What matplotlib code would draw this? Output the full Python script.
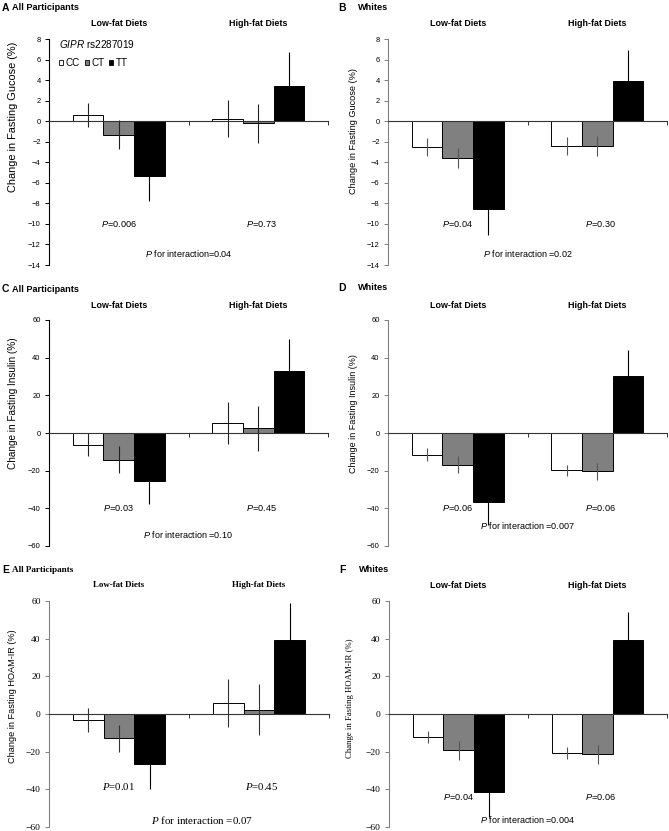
import numpy as np
import matplotlib
matplotlib.use("Agg")
from matplotlib import pyplot as plt
from matplotlib.patches import Patch
from matplotlib.transforms import blended_transform_factory

W, H = 669, 831
DPI = 100

plt.rcParams['font.family'] = ['Liberation Sans', 'DejaVu Sans']
plt.rcParams['mathtext.fontset'] = 'custom'
plt.rcParams['mathtext.rm'] = 'Liberation Sans'
plt.rcParams['mathtext.it'] = 'Liberation Sans:italic'
plt.rcParams['mathtext.sf'] = 'Liberation Serif:italic'

# Data: rows = diet (low-fat, high-fat), cols = CC, CT, TT
genotypes = ["CC", "CT", "TT"]
diets = ["Low-fat Diets", "High-fat Diets"]
bar_colors = ["white", "#808080", "black"]

glucose_all = [[0.6, -1.3, -5.3], [0.25, -0.2, 3.45]]
glucose_all_err = [[1.2, 1.45, 2.5], [1.8, 1.9, 3.25]]
glucose_white = [[-2.5, -3.6, -8.5], [-2.4, -2.4, 3.95]]
glucose_white_err = [[0.85, 1.0, 2.6], [0.85, 0.95, 3.0]]

insulin_all = [[-6.2, -14.3, -25.6], [5.3, 2.6, 32.8]]
insulin_all_err = [[6.0, 7.2, 12.0], [11.4, 12.0, 17.3]]
insulin_white = [[-11.5, -16.8, -36.5], [-19.9, -20.3, 30.5]]
insulin_white_err = [[3.3, 4.7, 12.5], [3.0, 4.4, 13.4]]

homa_all = [[-3.0, -13.0, -26.6], [5.8, 2.3, 39.3]]
homa_all_err = [[6.3, 7.3, 13.0], [12.7, 13.5, 19.5]]
homa_white = [[-12.3, -19.2, -41.2], [-20.6, -21.3, 39.4]]
homa_white_err = [[3.2, 5.0, 13.5], [3.3, 5.0, 14.8]]

p_values = [["0.006", "0.73"], ["0.04", "0.30"], ["0.03", "0.45"],
            ["0.06", "0.06"], ["0.01", "0.45"], ["0.04", "0.06"]]
p_interaction = ["=0.04", " =0.02", " =0.10", " =0.007", " =0.07", " =0.004"]

# layout of each panel (pixel coordinates, top-left origin)
panels = [
    dict(letter="A", title="All Participants", vals=glucose_all, err=glucose_all_err,
         box=(49, 39, 328, 265), ylim=(-14, 8), step=2, ylabel="Change in Fasting Gucose (%)",
         ylab_xy=(13, 117), ylab_size=7.9, title_y=8, head_y=24, p_y=-10, int_y=-12.85,
         int_x=1.0, spine="black", ecolor="#222222"),
    dict(letter="B", title="Whites", vals=glucose_white, err=glucose_white_err,
         box=(388, 39, 667, 265), ylim=(-14, 8), step=2, ylabel="Change in Fasting Gucose (%)",
         ylab_xy=(353, 131), ylab_size=6.6, title_y=8, head_y=24, p_y=-10, int_y=-12.9,
         int_x=1.0, spine="#808080", ecolor="#555555"),
    dict(letter="C", title="All Participants", vals=insulin_all, err=insulin_all_err,
         box=(49, 320, 328, 546), ylim=(-60, 60), step=20, ylabel="Change in Fasting Insulin (%)",
         ylab_xy=(13, 403), ylab_size=7.2, title_y=289, head_y=305, p_y=-40, int_y=-54,
         int_x=1.0, spine="black", ecolor="#222222"),
    dict(letter="D", title="Whites", vals=insulin_white, err=insulin_white_err,
         box=(388, 320, 667, 546), ylim=(-60, 60), step=20, ylabel="Change in Fasting Insulin (%)",
         ylab_xy=(353, 414), ylab_size=6.5, title_y=288, head_y=305, p_y=-39.6, int_y=-49,
         int_x=1.0, spine="#808080", ecolor="#555555"),
    dict(letter="E", title="All Participants", vals=homa_all, err=homa_all_err,
         box=(49, 601, 329, 827), ylim=(-60, 60), step=20, ylabel="Change in Fasting HOAM-IR (%)",
         ylab_xy=(13, 696), ylab_size=6.6, title_y=570, head_y=585, p_y=-38.3, int_y=-56.3,
         int_x=1.09, spine="#808080", ecolor="#333333",
         serif_head=True, serif_tick=True, serif_p=True),
    dict(letter="F", title="Whites", vals=homa_white, err=homa_white_err,
         box=(389, 601, 667, 827), ylim=(-60, 60), step=20, ylabel="Change in Fasting HOAM-IR (%)",
         ylab_xy=(350, 698), ylab_size=6.3, title_y=570, head_y=585, p_y=-44, int_y=-56,
         int_x=1.0, spine="#808080", ecolor="#555555", serif_tick=True, serif_ylab=True),
]

SERIF = ['Liberation Serif', 'DejaVu Serif']
SANS = ['Liberation Sans', 'DejaVu Sans']


def fx(x):
    return x / W


def fy(y):
    return 1 - y / H


fig = plt.figure(figsize=(W / DPI, H / DPI), dpi=DPI)
width = 0.22
centers = np.array([0.5, 1.5])

for k, p in enumerate(panels):
    x0, y0, x1, y1 = p["box"]
    ax = fig.add_axes([fx(x0), fy(y1), (x1 - x0) / W, (y1 - y0) / H])
    vals = np.array(p["vals"])
    errs = np.array(p["err"])
    for i, g in enumerate(genotypes):
        # error line inside the black bar should disappear, as in the original
        ec = "black" if i == 2 else p["ecolor"]
        ax.bar(centers + (i - 1) * width, vals[:, i], width=width, color=bar_colors[i],
               edgecolor="black", linewidth=0.7, yerr=errs[:, i],
               error_kw=dict(ecolor=ec, elinewidth=0.8, capsize=0), label=g)
    ax.set_xlim(0, 2)
    ax.set_ylim(*p["ylim"])
    ax.set_yticks(np.arange(p["ylim"][0], p["ylim"][1] + 1, p["step"]))
    ax.set_xticks([0, 1, 2])
    ax.set_xticklabels([])
    for s in ["top", "right"]:
        ax.spines[s].set_visible(False)
    ax.spines["bottom"].set_position(("data", 0))
    ax.spines["bottom"].set_color("#333333")
    ax.spines["bottom"].set_linewidth(0.8)
    ax.spines["left"].set_color(p["spine"])
    ax.spines["left"].set_linewidth(0.8)
    serif_tick = p.get("serif_tick", False)
    ax.tick_params(axis="y", direction="out", length=3, width=0.7, pad=3,
                   labelsize=6.8 if serif_tick else 5.4,
                   colors=p["spine"], labelcolor="black")
    ax.tick_params(axis="x", direction="out", length=3, width=0.7, color="#333333")
    for lab in ax.get_yticklabels():
        lab.set_family(SERIF if serif_tick else SANS)
    ax.patch.set_visible(False)

    # panel letter and title
    fig.text(fx(x0 - 47 if p["letter"] in "ACE" else x0 - 50), fy(p["title_y"]), p["letter"],
             fontsize=7.5, fontweight="bold", va="center")
    fig.text(fx(x0 - 37 if p["letter"] in "ACE" else x0 - 30), fy(p["title_y"]), p["title"],
             fontsize=6.6, fontweight="bold", va="center",
             family=SERIF if p.get("serif_head") else SANS)

    # diet headings
    tr = blended_transform_factory(ax.transData, fig.transFigure)
    for c, d in zip(centers, diets):
        ax.text(c, fy(p["head_y"]), d, transform=tr, ha="center", va="center",
                fontsize=6.4, fontweight="bold",
                family=SERIF if p.get("serif_head") else SANS)

    # y label
    fig.text(fx(p["ylab_xy"][0]), fy(p["ylab_xy"][1]), p["ylabel"], rotation=90,
             ha="center", va="center", fontsize=p["ylab_size"],
             family=SERIF if p.get("serif_ylab") else SANS)

    # P values
    if p.get("serif_p"):
        pfam, pit, psize, isize = SERIF, r"$\mathsf{P}$", 7.8, 7.9
    else:
        pfam, pit, psize, isize = SANS, r"$\mathit{P}$", 6.6, 6.5
    for c, pv in zip([0.5, 1.52], p_values[k]):
        ax.text(c, p["p_y"], pit + "=" + pv, ha="center", va="center",
                fontsize=psize, family=pfam)
    ax.text(p["int_x"], p["int_y"], pit + " for interaction" + p_interaction[k],
            ha="center", va="center", fontsize=isize, family=pfam)

    if k == 0:
        handles = [Patch(facecolor=c, edgecolor="black", linewidth=0.6, label=g)
                   for c, g in zip(bar_colors, genotypes)]
        leg = ax.legend(handles=handles, ncol=3, frameon=False, fontsize=7.1,
                        title=r"$\mathit{GIPR}$ rs2287019", title_fontsize=7.2,
                        alignment="left", handlelength=0.45, handleheight=0.45,
                        handletextpad=0.2, columnspacing=0.5, borderpad=0,
                        borderaxespad=0, labelspacing=0.8,
                        loc="upper left", bbox_to_anchor=(fx(59), fy(38)),
                        bbox_transform=fig.transFigure)

fig.savefig("out.png", dpi=DPI)
